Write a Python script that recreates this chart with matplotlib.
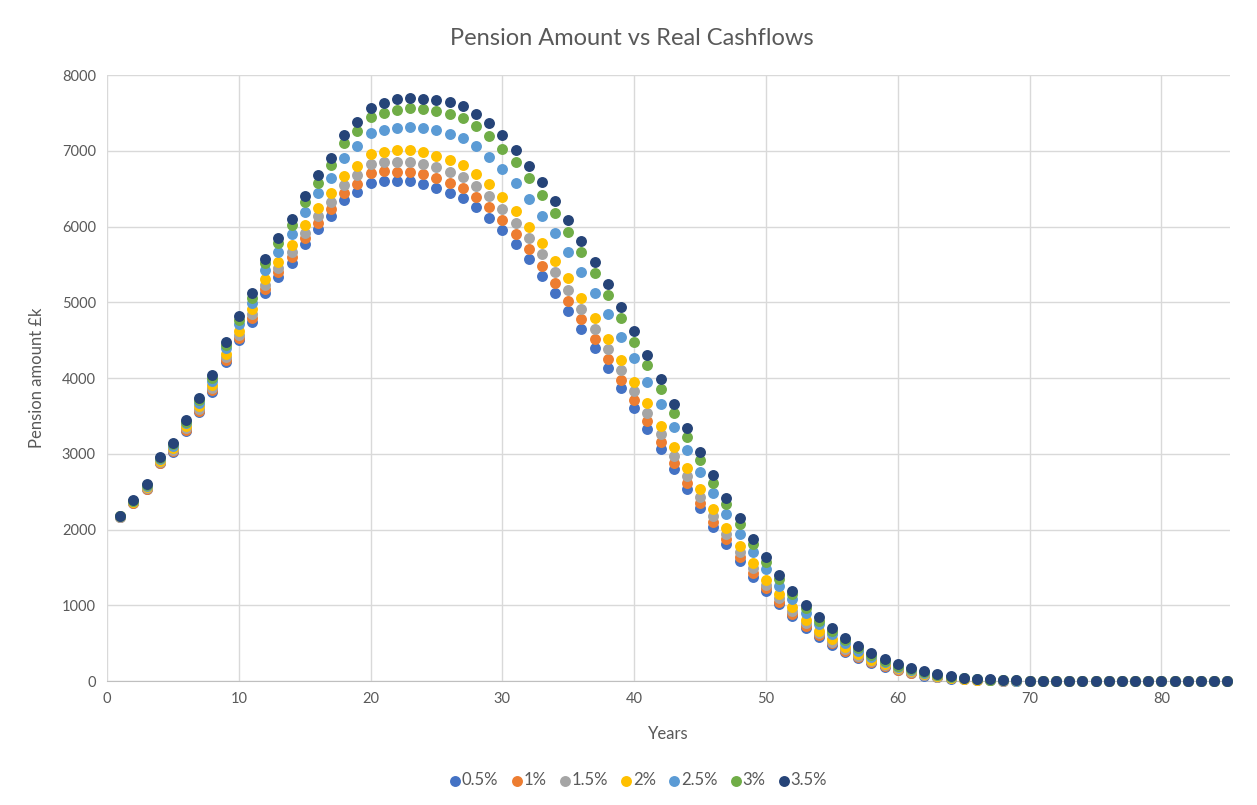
import matplotlib
matplotlib.use("Agg")
import matplotlib.pyplot as plt

plt.rcParams['font.family'] = ['Lato', 'DejaVu Sans']

years = list(range(1, 86))
labels = ["0.5%", "1%", "1.5%", "2%", "2.5%", "3%", "3.5%"]
colours = ["#4472C4", "#ED7D31", "#A5A5A5", "#FFC000", "#5B9BD5", "#70AD47", "#264478"]

rate_05 = [2165, 2346, 2531, 2874, 3027, 3304, 3555, 3819, 4205, 4500,
           4744, 5126, 5337, 5522, 5769, 5963, 6143, 6350, 6455, 6578,
           6605, 6605, 6600, 6561, 6512, 6446, 6380, 6262, 6116, 5950,
           5769, 5567, 5351, 5128, 4889, 4647, 4392, 4128, 3864, 3600,
           3325, 3063, 2795, 2531, 2280, 2037, 1809, 1588, 1377, 1192,
           1016, 858, 704, 581, 475, 387, 304, 238, 189, 145,
           103, 72, 49, 33, 21, 13, 8, 5, 3, 2,
           1, 1, 0, 0, 0, 0, 0, 0, 0, 0,
           0, 0, 0, 0, 0]
rate_1 = [2168, 2352, 2540, 2880, 3040, 3320, 3570, 3840, 4240, 4530,
          4788, 5171, 5403, 5593, 5844, 6050, 6227, 6446, 6561, 6702,
          6730, 6724, 6724, 6693, 6644, 6578, 6512, 6393, 6253, 6086,
          5901, 5699, 5483, 5258, 5020, 4775, 4515, 4247, 3974, 3709,
          3436, 3160, 2882, 2610, 2354, 2103, 1871, 1641, 1430, 1223,
          1047, 884, 730, 603, 497, 400, 317, 247, 198, 152,
          110, 78, 53, 36, 23, 15, 9, 6, 3, 2,
          1, 1, 0, 0, 0, 0, 0, 0, 0, 0,
          0, 0, 0, 0, 0]
rate_15 = [2170, 2358, 2550, 2893, 3055, 3340, 3595, 3870, 4280, 4570,
           4840, 5228, 5448, 5668, 5919, 6139, 6328, 6548, 6676, 6821,
           6855, 6856, 6856, 6825, 6781, 6724, 6653, 6539, 6398, 6235,
           6042, 5844, 5633, 5403, 5162, 4911, 4647, 4379, 4106, 3828,
           3542, 3261, 2974, 2706, 2433, 2178, 1937, 1707, 1488, 1267,
           1092, 924, 761, 629, 519, 418, 330, 260, 207, 160,
           118, 84, 58, 39, 25, 16, 10, 6, 4, 2,
           1, 1, 0, 0, 0, 0, 0, 0, 0, 0,
           0, 0, 0, 0, 0]
rate_2 = [2173, 2365, 2563, 2905, 3075, 3365, 3625, 3905, 4320, 4620,
          4905, 5305, 5535, 5755, 6020, 6250, 6440, 6670, 6805, 6955,
          6985, 7010, 7010, 6980, 6935, 6878, 6816, 6697, 6561, 6389,
          6205, 5997, 5782, 5550, 5316, 5060, 4788, 4515, 4238, 3951,
          3666, 3371, 3085, 2808, 2531, 2267, 2016, 1782, 1554, 1333,
          1144, 973, 805, 664, 550, 445, 352, 277, 220, 170,
          128, 92, 64, 43, 28, 18, 12, 7, 5, 3,
          2, 1, 1, 0, 0, 0, 0, 0, 0, 0,
          0, 0, 0, 0, 0]
rate_25 = [2176, 2375, 2578, 2930, 3105, 3400, 3675, 3965, 4390, 4710,
           4995, 5425, 5670, 5900, 6195, 6440, 6645, 6910, 7060, 7230,
           7270, 7305, 7320, 7295, 7270, 7220, 7170, 7058, 6920, 6760,
           6570, 6365, 6145, 5910, 5668, 5395, 5126, 4845, 4545, 4260,
           3951, 3653, 3349, 3050, 2755, 2478, 2205, 1941, 1699, 1474,
           1258, 1078, 902, 748, 620, 506, 400, 313, 247, 190,
           145, 106, 75, 51, 34, 22, 15, 9, 6, 4,
           2, 1, 1, 0, 0, 0, 0, 0, 0, 0,
           0, 0, 0, 0, 0]
rate_3 = [2178, 2383, 2590, 2945, 3125, 3425, 3705, 4005, 4440, 4770,
          5050, 5515, 5780, 6020, 6330, 6580, 6810, 7100, 7260, 7440,
          7495, 7535, 7560, 7548, 7525, 7485, 7435, 7325, 7200, 7030,
          6855, 6640, 6415, 6185, 5930, 5660, 5380, 5095, 4790, 4480,
          4172, 3850, 3535, 3225, 2915, 2620, 2335, 2070, 1810, 1575,
          1342, 1145, 960, 796, 664, 541, 432, 339, 268, 205,
          158, 118, 84, 58, 39, 26, 17, 11, 7, 5,
          3, 2, 1, 1, 0, 0, 0, 0, 0, 0,
          0, 0, 0, 0, 0]
rate_35 = [2180, 2390, 2600, 2955, 3140, 3445, 3730, 4035, 4480, 4820,
           5125, 5570, 5845, 6100, 6405, 6675, 6900, 7205, 7375, 7560,
           7625, 7680, 7700, 7690, 7675, 7640, 7595, 7490, 7365, 7205,
           7010, 6800, 6585, 6340, 6085, 5815, 5530, 5235, 4935, 4620,
           4305, 3985, 3655, 3335, 3025, 2715, 2420, 2150, 1875, 1635,
           1400, 1195, 1005, 845, 705, 572, 462, 365, 290, 225,
           175, 132, 95, 66, 45, 31, 21, 14, 9, 6,
           4, 2, 1, 1, 1, 0, 0, 0, 0, 0,
           0, 0, 0, 0, 0]

series = [rate_05, rate_1, rate_15, rate_2, rate_25, rate_3, rate_35]

fig = plt.figure(figsize=(12.57, 8.05), dpi=100)
ax = fig.add_axes([0.0851, 0.154, 0.8934, 0.7528])

for vals, lab, col in zip(series, labels, colours):
    ax.scatter(years, vals, s=62, color=col, label=lab, linewidths=0,
               clip_on=False, zorder=3)

ax.set_xlim(0, 85.2)
ax.set_ylim(0, 8000)
ax.set_xticks(range(0, 90, 10))
ax.set_yticks(range(0, 8001, 1000))
ax.grid(True, color="#d9d9d9", linewidth=1)
ax.set_axisbelow(True)
for s in ["top", "right", "left"]:
    ax.spines[s].set_visible(False)
ax.spines["bottom"].set_color("#bfbfbf")
ax.tick_params(length=0, labelsize=10.5, labelcolor="#595959", pad=8)

ax.set_xlabel("Years", fontsize=12, color="#595959", labelpad=14)
ax.set_ylabel("Pension amount £k", fontsize=12, color="#595959", labelpad=12)
fig.text(0.503, 0.952, "Pension Amount vs Real Cashflows", ha="center",
         va="center", fontsize=17, color="#595959")

fig.legend(loc="center", bbox_to_anchor=(0.506, 0.031), ncol=7, frameon=False,
           fontsize=12, handletextpad=-0.2, columnspacing=0.5, handlelength=1.2,
           labelcolor="#595959", markerscale=1.0, scatterpoints=1)

fig.savefig("out.png", dpi=100)
